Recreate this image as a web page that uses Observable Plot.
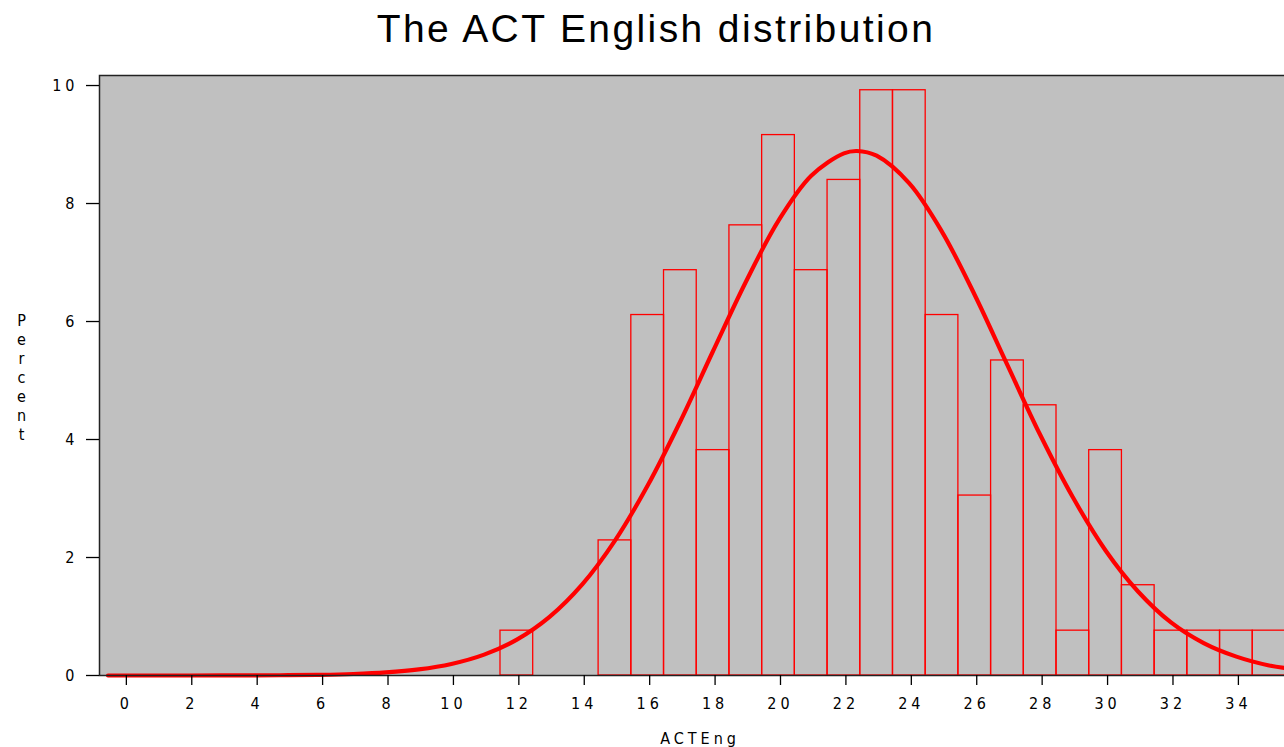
<!DOCTYPE html>
<html>
<head>
<meta charset="utf-8">
<script src="https://cdn.jsdelivr.net/npm/d3@7"></script>
<script src="https://cdn.jsdelivr.net/npm/@observablehq/plot@0.6"></script>
<style>
  html, body { margin: 0; padding: 0; background: #ffffff; }
  body { width: 1284px; height: 747px; overflow: hidden; position: relative; font-family: "Liberation Sans", Arial, sans-serif; }
  #title { height: 60px; line-height: 58px; width: 1312px; text-align: center; font-size: 39px; letter-spacing: 2.4px; color: #000; white-space: nowrap; }
  #ylab { position: absolute; left: 12px; top: 311px; writing-mode: vertical-lr; text-orientation: upright; font-family: "DejaVu Sans Condensed", "Liberation Sans", sans-serif; font-size: 16px; letter-spacing: 0px; color: #000; }
  #chart svg { display: block; max-width: none !important; }
</style>
</head>
<body>
<div id="title">The ACT English distribution</div>
<div id="ylab">Percent</div>
<div id="chart"></div>
<script>
// Histogram bins (ACT English score) and percent of students
const scores = [0, 1, 2, 3, 4, 5, 12, 15, 16, 17, 18, 19, 20, 21, 22, 23, 24, 25, 26, 27, 28, 29, 30, 31, 32, 33, 34, 35];
const percents = [0, 0, 0, 0, 0, 0, 0.76, 2.29, 6.11, 6.87, 3.82, 7.63, 9.16, 6.87, 8.40, 9.92, 9.92, 6.11, 3.05, 5.34, 4.58, 0.76, 3.82, 1.53, 0.76, 0.76, 0.76, 0.76];

// Fitted normal curve
const curveX = [-0.5, 0, 1, 2, 3, 4, 5, 6, 7, 8, 9, 10, 11, 12, 13, 14, 15, 16, 17, 18, 19, 20, 21, 22, 22.4, 23, 24, 25, 26, 27, 28, 29, 30, 31, 32, 33, 34, 35, 35.5];
const curveY = [0, 0, 0, 0, 0.001, 0.002, 0.005, 0.011, 0.025, 0.052, 0.103, 0.196, 0.354, 0.608, 0.994, 1.545, 2.287, 3.22, 4.31, 5.50, 6.67, 7.71, 8.47, 8.85, 8.89, 8.81, 8.34, 7.52, 6.45, 5.26, 4.08, 3.02, 2.12, 1.42, 0.90, 0.55, 0.32, 0.17, 0.126];

// Tick values
const xTicks = [0, 2, 4, 6, 8, 10, 12, 14, 16, 18, 20, 22, 24, 26, 28, 30, 32, 34];
const yTicks = [0, 2, 4, 6, 8, 10];

const bins = scores.map((s, i) => ({score: s, percent: percents[i]}));
const curve = curveX.map((x, i) => ({x, y: curveY[i]}));

const chart = Plot.plot({
  width: 1300,
  height: 687,
  marginTop: 15,
  marginBottom: 72,
  marginLeft: 99,
  marginRight: 0,
  style: {fontFamily: "'DejaVu Sans Condensed', 'Liberation Sans', Arial, sans-serif", fontSize: "16px", background: "transparent", color: "#000", letterSpacing: "4px"},
  x: {domain: [-0.76, 35.96]},
  y: {domain: [0, 10.17]},
  marks: [
    Plot.frame({fill: "#c0c0c0"}),
    Plot.rect(bins, {x1: d => d.score - 0.5, x2: d => d.score + 0.5, y1: 0, y2: "percent", fill: "none", stroke: "#ff0000", strokeWidth: 1.3}),
    Plot.line(curve, {x: "x", y: "y", stroke: "#ff0000", strokeWidth: 4.2, curve: "catmull-rom"}),
    Plot.frame({stroke: "#222", strokeWidth: 1.5}),
    Plot.axisY({ticks: yTicks, tickSize: 13, tickPadding: 8, label: null, stroke: "#000", strokeWidth: 1.3}),
    Plot.axisX({ticks: xTicks, tickSize: 10, tickPadding: 12, dx: 2, label: "ACTEng", labelAnchor: "center", labelArrow: "none", labelOffset: 68, stroke: "#000", strokeWidth: 1.3})
  ]
});
document.getElementById("chart").appendChild(chart);
</script>
</body>
</html>
